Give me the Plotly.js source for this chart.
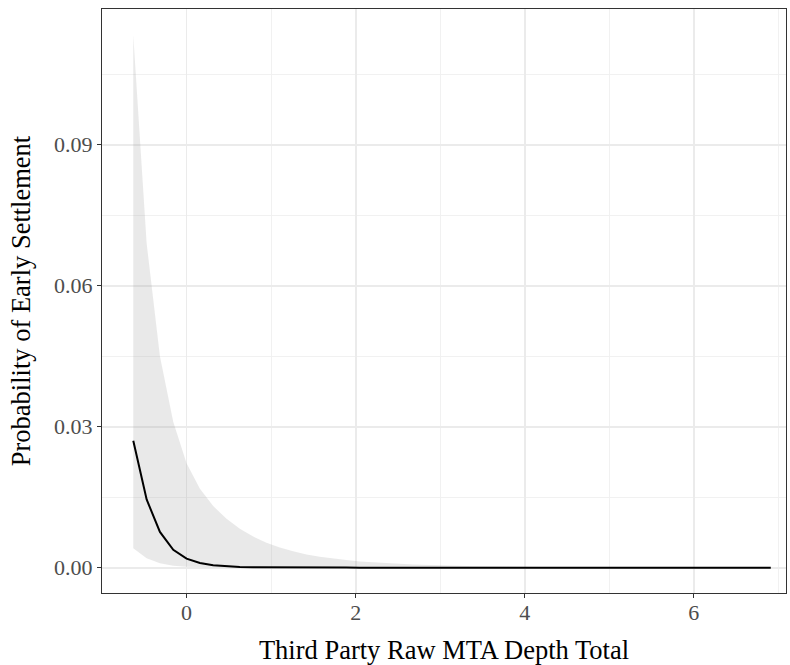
<!DOCTYPE html>
<html>
<head>
<meta charset="utf-8">
<script src="https://cdn.plot.ly/plotly-3.0.1.min.js"></script>
<style>body{margin:0;padding:0;background:#fff;} #chart{width:790px;height:665px;}</style>
</head>
<body>
<div id="chart"></div>
<script>
const depth = [-0.63, -0.472, -0.315, -0.157, 0.0, 0.158, 0.315, 0.473, 0.63, 0.788, 0.945, 1.103, 1.26, 1.418, 1.575, 1.733, 1.89, 2.048, 2.205, 2.363, 2.52, 2.678, 2.835, 2.993, 3.15, 3.308, 3.465, 3.623, 3.78, 4.095, 4.41, 4.725, 5.04, 5.355, 5.67, 5.985, 6.3, 6.615, 6.91];
const prob = [0.0270, 0.0145, 0.0076, 0.0038, 0.0019, 0.0010, 0.00052, 0.00027, 0.00014, 0.00007, 0.00004, 0.00002, 0.00001, 0.000005, 0.000003, 0.000002, 0.000001, 0, 0, 0, 0, 0, 0, 0, 0, 0, 0, 0, 0, 0, 0, 0, 0, 0, 0, 0, 0, 0, 0];
const upper = [0.1133, 0.0690, 0.0450, 0.0310, 0.0222, 0.0168, 0.0131, 0.0104, 0.0083, 0.0066, 0.0053, 0.0043, 0.0035, 0.0028, 0.0023, 0.0019, 0.0016, 0.0013, 0.0011, 0.00093, 0.00080, 0.00068, 0.00057, 0.00048, 0.0004, 0.00034, 0.00029, 0.00024, 0.0002, 0.00014, 0.0001, 0.00007, 0.00005, 0.00003, 0.00002, 0.000015, 0.00001, 0.000005, 0.000003];
const lower = [0.0041, 0.0020, 0.00094, 0.00042, 0.00018, 0.00008, 0.00003, 0.00001, 0, 0, 0, 0, 0, 0, 0, 0, 0, 0, 0, 0, 0, 0, 0, 0, 0, 0, 0, 0, 0, 0, 0, 0, 0, 0, 0, 0, 0, 0, 0];
const xTicks = [0, 2, 4, 6];
const xMinor = [-1, 1, 3, 5, 7];
const yTicks = [0.00, 0.03, 0.06, 0.09];
const yMinor = [0.015, 0.045, 0.075, 0.105];
const yTickText = ["0.00", "0.03", "0.06", "0.09"];

const FONT = "Liberation Serif, Times New Roman, serif";

const traces = [
  {x: depth, y: lower, type: 'scatter', mode: 'lines', line: {width: 0, color: 'rgba(0,0,0,0)'}, hoverinfo: 'skip', showlegend: false},
  {x: depth, y: upper, type: 'scatter', mode: 'lines', fill: 'tonexty', fillcolor: 'rgba(153,153,153,0.22)', line: {width: 0, color: 'rgba(0,0,0,0)'}, hoverinfo: 'skip', showlegend: false},
  {x: depth, y: prob, type: 'scatter', mode: 'lines', line: {color: '#000000', width: 2}, showlegend: false}
];

const axisCommon = {
  showline: true, mirror: true, linecolor: '#333333', linewidth: 1,
  showgrid: true, gridcolor: '#EBEBEB', gridwidth: 1.8,
  zeroline: false,
  ticks: 'outside', ticklen: 4, tickwidth: 1, tickcolor: '#333333',
  tickfont: {family: FONT, size: 22, color: '#4D4D4D'}
};

const layout = {
  width: 790, height: 665,
  margin: {l: 102, r: 4, t: 9, b: 72},
  paper_bgcolor: '#FFFFFF', plot_bgcolor: '#FFFFFF',
  font: {family: FONT},
  showlegend: false,
  xaxis: Object.assign({}, axisCommon, {
    range: [-1.0, 7.09],
    tickmode: 'array', tickvals: xTicks, ticktext: xTicks.map(String),
    ticklabelstandoff: -4,
    minor: {showgrid: true, gridcolor: '#F0F0F0', gridwidth: 0.9, tickmode: 'array', tickvals: xMinor, ticks: ''},
    title: {text: 'Third Party Raw MTA Depth Total', font: {family: FONT, size: 26.5, color: '#000000'}, standoff: 17}
  }),
  yaxis: Object.assign({}, axisCommon, {
    range: [-0.0054, 0.1189],
    tickmode: 'array', tickvals: yTicks, ticktext: yTickText,
    minor: {showgrid: true, gridcolor: '#F0F0F0', gridwidth: 0.9, tickmode: 'array', tickvals: yMinor, ticks: ''},
    title: {text: 'Probability of Early Settlement', font: {family: FONT, size: 26.5, color: '#000000'}, standoff: 15}
  })
};

Plotly.newPlot('chart', traces, layout, {displayModeBar: false, staticPlot: true});
</script>
</body>
</html>
